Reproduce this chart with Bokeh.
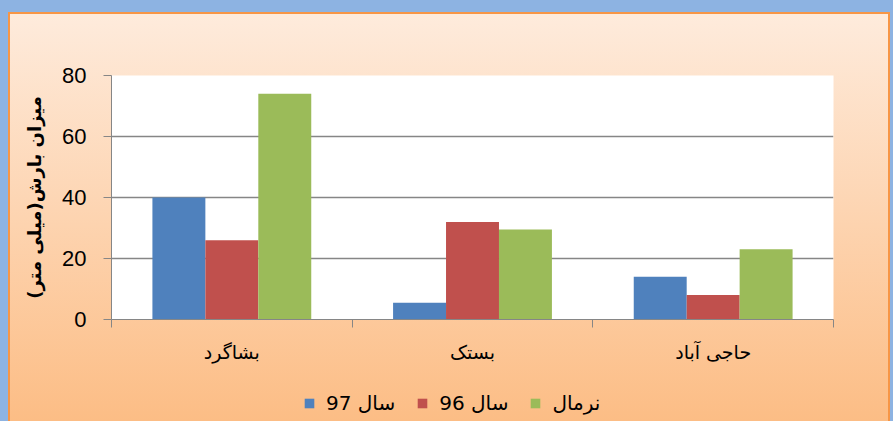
from bokeh.plotting import figure
from bokeh.layouts import column
from bokeh.models import (Range1d, LinearAxis, FixedTicker, Legend, LegendItem, ColumnDataSource)
from bokeh.transform import dodge
from bokeh.embed import file_html
from bokeh.resources import INLINE

# ---- data ----
categories = ["بشاگرد", "بستک", "حاجی آباد"]
sal_97 = [40, 5.5, 14]
sal_96 = [26, 32, 8]
normal = [74, 29.5, 23]
series_labels = ["سال 97", "سال 96", "نرمال"]
y_ticks = [0, 20, 40, 60, 80]
y_label = "میزان بارش(میلی متر)"

colors = ["#4F81BD", "#C0504D", "#9BBB59"]
GRID = "#868686"
FA_FONT = "DejaVu Sans"

n = len(categories)
centers = [i + 0.5 for i in range(n)]
src = ColumnDataSource(dict(x=centers, s97=sal_97, s96=sal_96, nrm=normal))
cols = ["s97", "s96", "nrm"]
w = 0.22
offsets = [-w, 0, w]

# ---- main chart ----
p = figure(x_range=Range1d(0, n), y_range=Range1d(0, 80),
           width=878, height=371, output_backend="svg", toolbar_location=None,
           x_axis_location=None, min_border_left=101, min_border_right=55,
           min_border_top=61, min_border_bottom=66)
p.border_fill_color = None
p.background_fill_color = "white"
p.outline_line_color = None

for col, off, c in zip(cols, offsets, colors):
    p.vbar(x=dodge("x", off), top=col, width=w, source=src, fill_color=c, line_color=None)

bticks = list(range(n + 1))
tick_axis = LinearAxis(ticker=FixedTicker(ticks=bticks),
                       major_label_overrides={t: "" for t in bticks},
                       major_tick_out=8, major_tick_in=0, minor_tick_out=0, minor_tick_in=0,
                       axis_line_color=GRID, major_tick_line_color=GRID,
                       major_label_standoff=0, major_label_text_font_size="1px")
p.add_layout(tick_axis, "below")
cat_axis = LinearAxis(ticker=FixedTicker(ticks=centers),
                      major_label_overrides={c: name for c, name in zip(centers, categories)},
                      major_tick_line_color=None, axis_line_color=None,
                      major_tick_out=0, major_tick_in=0, minor_tick_out=0, minor_tick_in=0,
                      major_label_text_font=FA_FONT, major_label_text_font_size="19px",
                      major_label_text_color="black", major_label_standoff=13)
p.add_layout(cat_axis, "below")

p.yaxis.ticker = FixedTicker(ticks=y_ticks)
p.yaxis.major_tick_out = 8
p.yaxis.major_tick_in = 0
p.yaxis.minor_tick_line_color = None
p.yaxis.axis_line_color = GRID
p.yaxis.major_tick_line_color = GRID
p.yaxis.major_label_text_font = "Liberation Sans"
p.yaxis.major_label_text_font_size = "22px"
p.yaxis.major_label_text_color = "black"
p.yaxis.major_label_standoff = 17
p.yaxis.axis_label = y_label
p.yaxis.axis_label_text_font = FA_FONT
p.yaxis.axis_label_text_font_size = "18px"
p.yaxis.axis_label_text_font_style = "bold"
p.yaxis.axis_label_text_color = "black"
p.yaxis.axis_label_standoff = 14

p.xgrid.grid_line_color = None
p.ygrid.grid_line_color = GRID
p.ygrid.grid_line_width = 1.5

# ---- legend strip (its own small figure, legend drawn inside its frame) ----
p2 = figure(x_range=Range1d(0, n), y_range=Range1d(1000, 1001),
            width=878, height=36, output_backend="svg", toolbar_location=None,
            x_axis_location=None, y_axis_location=None,
            min_border_left=0, min_border_right=0, min_border_top=0, min_border_bottom=0)
p2.border_fill_color = None
p2.background_fill_color = None
p2.outline_line_color = None
p2.grid.grid_line_color = None
leg_renderers = []
for col, off, c in zip(cols, offsets, colors):
    r = p2.vbar(x=dodge("x", off), top=col, width=w, source=src, fill_color=c, line_color=None)
    leg_renderers.append(r)

legend = Legend(items=[LegendItem(label=l, renderers=[r]) for l, r in zip(series_labels, leg_renderers)],
                orientation="horizontal", location=(192, 6),
                background_fill_alpha=0, border_line_color=None,
                label_text_font=FA_FONT, label_text_font_size="20px", label_text_color="black",
                glyph_width=12, glyph_height=12, label_standoff=11, spacing=21,
                padding=0, margin=0)
p2.add_layout(legend)

layout = column(p, p2, spacing=0)
layout.styles = {
    "margin-top": "14px",
    "margin-left": "10px",
    "background": "linear-gradient(to bottom, #FEEBDC, #FCBD85)",
    "box-shadow": "0 0 0 2px #F79646, 0 0 0 16px #8DB3E2",
}

open("out.html", "w").write(file_html(layout, INLINE))
